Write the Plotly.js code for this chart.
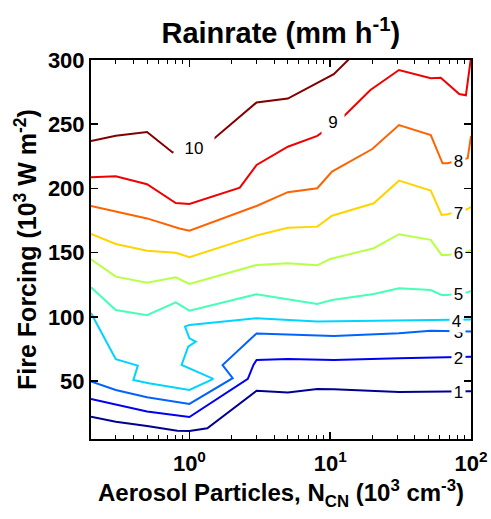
<!DOCTYPE html>
<html>
<head>
<meta charset="utf-8">
<script src="https://cdn.plot.ly/plotly-3.0.1.min.js"></script>
<style>html,body{margin:0;padding:0;background:#fff;}</style>
</head>
<body>
<div id="chart" style="width:491px;height:519px;"></div>
<script>
// Contour levels (rain rate, mm/h)
const levels = [1,2,3,4,5,6,7,8,9,10];
const levelColors = ['#000090','#0000f1','#0063ff','#00d4ff','#47ffb8','#b8ff47','#ffd400','#ff6300','#f10000','#800000'];

// Contour line vertices: x = aerosol particles (10^3 cm^-3), y = fire forcing (10^3 W m^-2)
const lev1X = [0.2,0.3,0.5,0.82,1.0,1.34,3.0,5,8.1,10.6,30.8,68,100];
const lev1Y = [22.4,18.5,15.2,11.5,11.3,13.4,42.6,41.2,44,43.7,41.6,42.2,42.2];
const lev2X = [0.2,0.3,0.5,1.0,2.6,2.85,3.0,5,10.6,30.8,68,100];
const lev2Y = [36.2,31.7,26.4,22.1,51.8,62.6,66.5,67.3,66.5,67.9,68.6,69.1];
const lev3X = [0.2,0.3,0.5,1.0,2.03,1.72,3.0,8.1,10.6,30.8,51.8,100];
const lev3Y = [49.8,43.2,37.5,32.3,52.3,62.6,87.2,85.8,85.2,87.3,89.3,88.6];
const lev4X = [0.2,0.239,0.3,0.43,0.40,0.515,1.0,1.48,0.88,0.98,1.11,1.0,0.93,1.0,3.0,8.1,30.8,51.8,100];
const lev4Y = [103,87.3,67.1,62.1,51,48.4,43.2,51.8,62.6,76.9,80.8,83.4,92.5,93.8,99,96.4,97.4,98,98];
const lev5X = [0.2,0.3,0.5,0.8,1.0,3.0,8.1,10.3,20.4,30.8,51.8,61.8,68.2,94.7,100];
const lev5Y = [123.1,105.4,101.3,111.4,104.9,117.7,110.1,113.2,117.9,122.3,121,117.1,117.1,119.2,120.2];
const lev6X = [0.2,0.3,0.5,0.8,1.0,3.0,5,8.1,10,20.4,30.8,51.8,61.8,68.2,94.7,100];
const lev6Y = [144.9,131.4,126.7,130.9,125.7,140.5,141.8,140.2,145.1,153.5,164.4,160,148.3,148.3,150.9,152.1];
const lev7X = [0.2,0.3,0.5,0.8,1.0,3.0,5,8.1,10.3,20.4,30.8,51.8,61.8,68.2,94.7,100];
const lev7Y = [164.6,156.8,151.6,150,146.5,163.4,169.5,170.3,178.8,188.5,206.1,198.3,179.4,180,184,185.8];
const lev8X = [0.2,0.3,0.5,0.85,1.0,3.0,5,8.1,10.3,19.9,30.8,51.8,62.8,68.2,94.7,100];
const lev8Y = [186.4,181.9,176.7,168.9,167.2,186.4,197.1,200.2,213.1,230.7,249.4,241.6,219.6,219.6,223.5,240.9];
const lev9X = [0.2,0.3,0.5,0.8,1.0,2.28,3.0,5,8.1,8.9,12.1,19.3,30.8,51.8,61,82.5,92,100];
const lev9Y = [208.7,209.5,203.3,188.7,188,200.6,218.3,232.5,240.9,244.2,254.6,276.7,292.2,285.8,286.2,273.5,272.5,302];
const lev10X = [0.2,0.3,0.5,0.76,1.43,3.0,5,10.6,14];
const lev10Y = [237,241,244,228,237,267,270,289,302];

// Contour label positions
const labelText = ['1','2','3','4','5','6','7','8','9','10'];
const labelX = [81.7,81.7,81.7,79.4,81.7,81.7,81.7,81.7,10.45,1.07];
const labelY = [41.6,68.3,88,97.1,117.7,149.6,181,221.4,252,231.8];

// Axis ticks
const xTickVals = [1,10,100];
const xTickText = ['10<sup>0</sup>','10<sup>1</sup>','10<sup>2</sup>'];
const xMinorVals = [0.3,0.4,0.5,0.6,0.7,0.8,0.9,2,3,4,5,6,7,8,9,20,30,40,50,60,70,80,90];
const yTickVals = [50,100,150,200,250,300];

const allX = [lev1X,lev2X,lev3X,lev4X,lev5X,lev6X,lev7X,lev8X,lev9X,lev10X];
const allY = [lev1Y,lev2Y,lev3Y,lev4Y,lev5Y,lev6Y,lev7Y,lev8Y,lev9Y,lev10Y];

const traces = levels.map((lv,i)=>({
  type:'scatter', mode:'lines', x:allX[i], y:allY[i],
  line:{color:levelColors[i], width:2}, hoverinfo:'skip', showlegend:false
}));

const boxW = [13,13,13,13,13,13,13,13,22,40];
const boxH = [18,18,18,22,18,18,18,18,24,22];
const annotations = labelText.map((t,i)=>({
  x:Math.log10(labelX[i]), y:labelY[i], xref:'x', yref:'y', text:t, showarrow:false,
  font:{family:'Liberation Sans, Arial, sans-serif', size:17, color:'#000'},
  bgcolor:'#fff', borderpad:0, width:boxW[i], height:boxH[i]
}));

const font = {family:'Liberation Sans, Arial, sans-serif', color:'#000'};
const layout = {
  width:491, height:519,
  margin:{l:91, r:20, t:60, b:80},
  paper_bgcolor:'#fff', plot_bgcolor:'#fff',
  showlegend:false,
  title:{text:'Rainrate (mm h<sup>-1</sup>)', x:0.572, xanchor:'center', y:0.937, yanchor:'middle', yref:'container',
    font:Object.assign({size:29, weight:'bold'}, font)},
  xaxis:{type:'log', range:[Math.log10(0.2),2], tickvals:xTickVals, ticktext:xTickText,
    ticks:'inside', ticklen:7, tickwidth:1.5, tickcolor:'#000',
    showline:true, linecolor:'#000', linewidth:2, mirror:'ticks',
    showgrid:false, zeroline:false, ticklabelstandoff:4,
    minor:{tickvals:xMinorVals, ticks:'inside', ticklen:4, tickwidth:1, tickcolor:'#000', showgrid:false},
    tickfont:Object.assign({size:22, weight:'bold'}, font),
    title:{text:'Aerosol Particles, N<sub>CN</sub> (10<sup>3</sup> cm<sup>-3</sup>)', standoff:4,
      font:Object.assign({size:24, weight:'bold'}, font)}},
  yaxis:{range:[5,300], tickvals:yTickVals,
    ticks:'inside', ticklen:7, tickwidth:1.5, tickcolor:'#000',
    showline:true, linecolor:'#000', linewidth:2, mirror:'ticks',
    showgrid:false, zeroline:false,
    tickfont:Object.assign({size:22, weight:'bold'}, font),
    title:{text:'Fire Forcing (10<sup>3</sup> W m<sup>-2</sup>)', standoff:4,
      font:Object.assign({size:25, weight:'bold'}, font)}},
  annotations:annotations
};

Plotly.newPlot('chart', traces, layout, {displayModeBar:false, staticPlot:true});
</script>
</body>
</html>
